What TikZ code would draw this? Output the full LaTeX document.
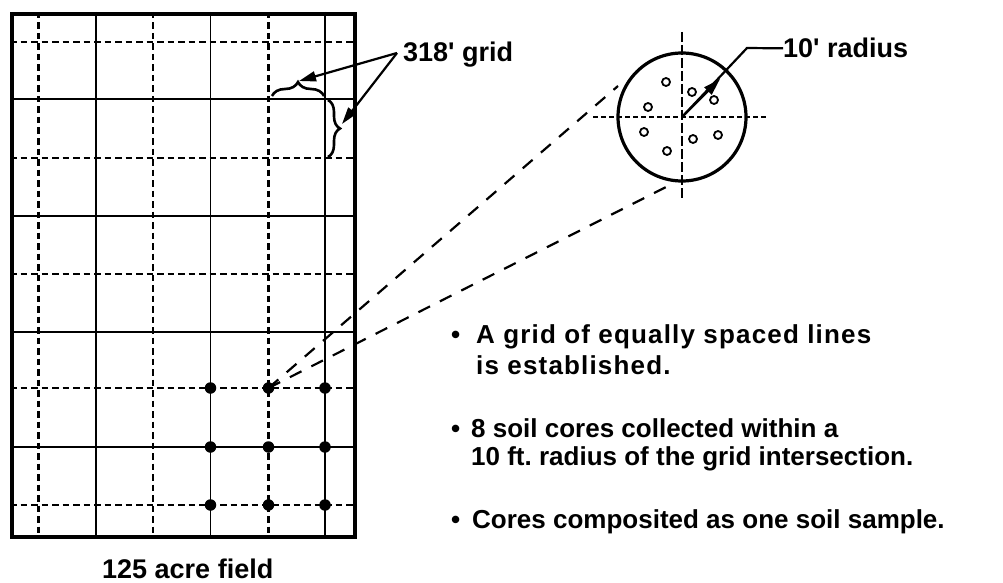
\documentclass[tikz,border=0pt]{standalone}
\usepackage{fontspec}
\setmainfont{Liberation Sans}
\usetikzlibrary{arrows.meta,decorations.pathreplacing}
\frenchspacing
\begin{document}
\begin{tikzpicture}[x=1pt,y=-1pt,
  solidln/.style={line width=1.7pt},
  dashln/.style={line width=2.3pt,dash pattern=on 6.5pt off 4pt},
  longdash/.style={line width=2.2pt,dash pattern=on 13pt off 11pt},
  crossh/.style={line width=1.6pt,dash pattern=on 5pt off 3pt},
  crossv/.style={line width=1.6pt,dash pattern=on 10pt off 3pt},
  gdot/.style={circle,fill=black,inner sep=0pt,minimum size=11.5pt},
  core/.style={circle,draw,line width=1.8pt,inner sep=0pt,minimum size=8pt},
  lbl/.style={inner sep=0pt,anchor=base west,font=\fontsize{27}{30}\selectfont\bfseries},
  txt/.style={inner sep=0pt,anchor=base west,align=left,font=\fontsize{26}{29}\selectfont\bfseries},
  brc/.style={decorate,line width=2.6pt},
  arr/.style={line width=2.2pt,-{Triangle[length=17pt,width=10pt]}}
]
\useasboundingbox (0,0) rectangle (1003,583);

% grid lines
\foreach \y in {42,158,274,388,505} \draw[dashln] (10,\y) -- (353,\y);
\foreach \y in {99,216,332,447} \draw[solidln] (10,\y) -- (353,\y);
\foreach \x in {38.5,153,268.5} \draw[dashln] (\x,12) -- (\x,535);
\foreach \x in {96,210.5,325} \draw[solidln] (\x,12) -- (\x,535);

% field outline
\node[draw,line width=3.6pt,minimum width=343pt,minimum height=523pt,inner sep=0pt,anchor=north west] (field) at (10,12) {};

% sample dots
\foreach \x/\i in {210.5/1,268.5/2,325/3}
  \foreach \y/\j in {388/1,447/2,505/3}
    \node[gdot] (d\i\j) at (\x,\y) {};

% braces
\draw[brc,decoration={brace,amplitude=14pt}] (272,96) -- (324,96);
\draw[brc,decoration={brace,amplitude=12pt}] (328,100) -- (328,157);
\coordinate (hb) at (299,81);
\coordinate (vb) at (342,124);

% 318' grid label and arrows
\node[lbl] (g318) at (403,62) {318\textquotesingle\ grid};
\coordinate (a318) at (397,53);
\draw[arr] (a318) -- (hb);
\draw[arr] (a318) -- (vb);

% magnified circle
\node[circle,draw,line width=3.2pt,minimum size=128pt,inner sep=0pt] (zc) at (682,117) {};
\draw[crossh] (593,117) -- (767,117);
\draw[crossv] (682,32) -- (682,198);
\foreach \p/\n in {{(666,82)}/1,{(692,92)}/2,{(714,100)}/3,{(648,107)}/4,{(644,132)}/5,{(693,139)}/6,{(718,135)}/7,{(667,151)}/8}
  \node[core] (c\n) at \p {};

% dashed projection lines
\coordinate (tu) at (618,86);
\coordinate (tl) at (672,184);
\draw[longdash] (d21.center) -- (tu);
\draw[longdash] (d21.center) -- (tl);

% radius label
\node[lbl] (r10) at (783,58) {10\textquotesingle\ radius};
\coordinate (rb) at (747,48);
\draw[line width=2.2pt] (zc.center) -- (rb) -- (r10.west);
\draw[arr] (zc.center) -- (720,79);

% caption
\node[lbl] (cap) at (102,578) {125 acre field};

% bullet texts (base anchor = baseline of last line)
\node[txt,font=\fontsize{26}{29}\selectfont\bfseries\addfontfeature{LetterSpace=4.5}] (b1) at (476,374) {\llap{\textbullet\hspace{16pt}}A grid of equally spaced lines\\[2pt]is established.};
\node[txt] (b2) at (471,465) {\llap{\textbullet\hspace{11pt}}8 soil cores collected within a\\[-1pt]10 ft. radius of the grid intersection.};
\node[txt] (b3) at (472,528) {\llap{\textbullet\hspace{12pt}}Cores composited as one soil sample.};
\end{tikzpicture}
\end{document}
